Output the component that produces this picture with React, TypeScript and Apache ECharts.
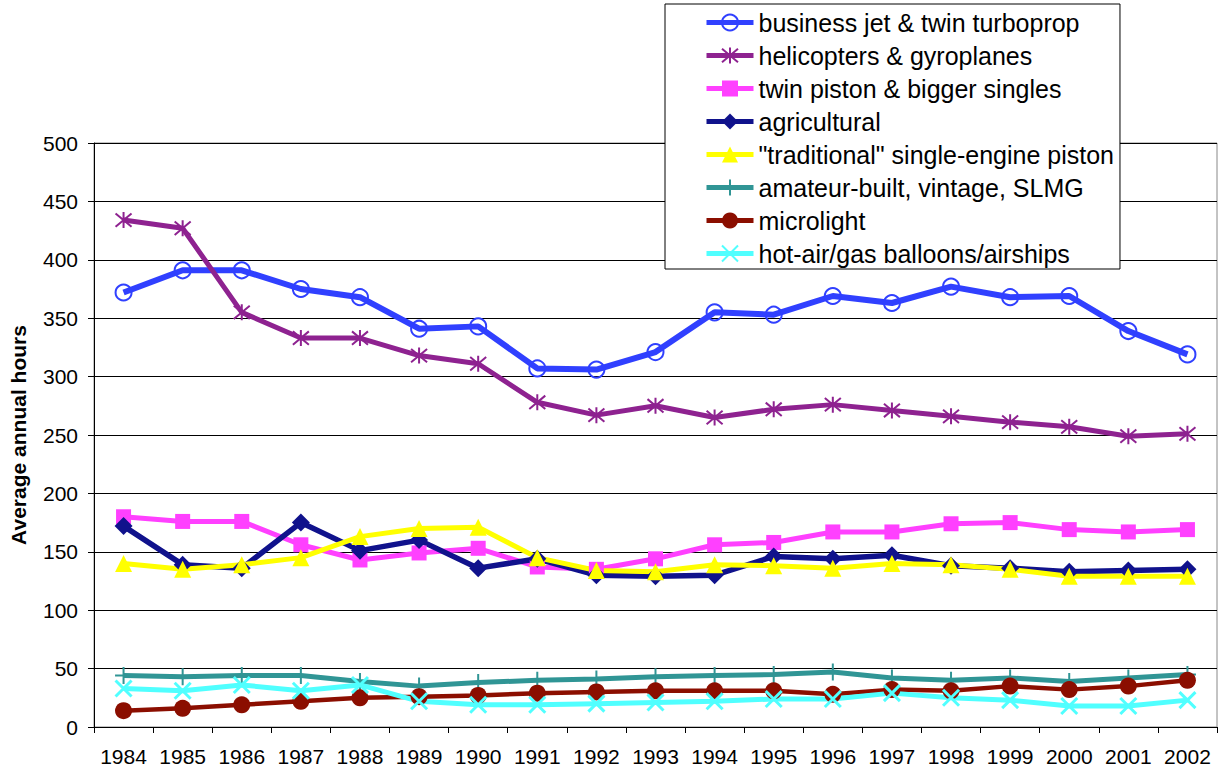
import React, { useEffect, useRef } from "react";
import * as echarts from "echarts";

const years = ["1984","1985","1986","1987","1988","1989","1990","1991","1992","1993","1994","1995","1996","1997","1998","1999","2000","2001","2002"];
const businessJet = [372,391,391,375,368,341,343,307,306,321,355,353,369,363,377,368,369,339,319];
const helicopters = [434,427,355,333,333,318,311,278,267,275,265,272,276,271,266,261,257,249,251];
const twinPiston = [180,176,176,156,143,149,153,137,135,144,156,158,167,167,174,175,169,167,169];
const agricultural = [172,139,136,175,151,160,136,144,130,129,130,146,144,147,138,136,133,134,135];
const traditional = [140,135,139,145,163,170,171,145,134,133,139,138,136,140,139,135,129,129,129];
const amateur = [44,43,44,44,39,35,38,40,41,43,44,45,47,42,40,42,39,42,45];
const microlight = [14,16,19,22,25,26,27,29,30,31,31,31,28,32,31,35,32,35,40];
const balloons = [33,31,36,31,36,22,19,19,20,21,22,24,24,29,25,23,18,18,23];

const names = [
  "business jet & twin turboprop",
  "helicopters & gyroplanes",
  "twin piston & bigger singles",
  "agricultural",
  "\"traditional\" single-engine piston",
  "amateur-built, vintage, SLMG",
  "microlight",
  "hot-air/gas balloons/airships",
];

const FONT = "'Liberation Sans', Arial, sans-serif";

const ASTERISK = "path://M0,0L10,10M10,0L0,10M5,-1L5,11";
const CROSS = "path://M0,0L10,10M10,0L0,10";
const PLUS = "path://M5,0L5,12M0,6L10,6";

function strokeSeries(name: string, data: number[], color: string, symbol: string, size: number, lw: number, bw: number) {
  return {
    name,
    type: "line",
    data,
    symbol,
    symbolSize: size,
    lineStyle: { color, width: lw },
    itemStyle: { color: "rgba(0,0,0,0)", borderColor: color, borderWidth: bw },
  };
}

function fillSeries(name: string, data: number[], color: string, symbol: string, size: number, lw: number) {
  return {
    name,
    type: "line",
    data,
    symbol,
    symbolSize: size,
    lineStyle: { color, width: lw },
    itemStyle: { color },
  };
}

export default function App() {
  const ref = useRef<HTMLDivElement>(null);
  useEffect(() => {
    if (!ref.current) return;
    const chart = echarts.init(ref.current, null, { renderer: "svg" });
    chart.setOption({
      animation: false,
      backgroundColor: "#fff",
      textStyle: { fontFamily: FONT },
      grid: {
        left: 94,
        right: 15,
        top: 143,
        bottom: 44,
        show: true,
        borderColor: "#888",
        borderWidth: 1,
      },
      legend: {
        orient: "vertical",
        left: 665,
        top: 4,
        padding: [6, 6, 3, 39],
        itemWidth: 47,
        itemHeight: 20,
        itemGap: 8,
        backgroundColor: "#fff",
        borderColor: "#000",
        borderWidth: 1,
        lineStyle: { width: 5 },
        textStyle: { fontFamily: FONT, fontSize: 25, color: "#000", lineHeight: 25 },
        data: names,
      },
      xAxis: {
        type: "category",
        data: years,
        boundaryGap: true,
        axisLine: { lineStyle: { color: "#000", width: 1 } },
        axisTick: { show: true, length: 6, alignWithLabel: false, lineStyle: { color: "#000" } },
        axisLabel: { fontFamily: FONT, fontSize: 21, color: "#000", margin: 19, interval: 0 },
        splitLine: { show: false },
      },
      yAxis: {
        type: "value",
        min: 0,
        max: 500,
        interval: 50,
        name: "Average annual hours",
        nameLocation: "middle",
        nameGap: 65,
        nameTextStyle: { fontFamily: FONT, fontSize: 21, fontWeight: "bold", color: "#000" },
        axisLine: { show: true, lineStyle: { color: "#000", width: 1 } },
        axisTick: { show: true, length: 6, lineStyle: { color: "#000" } },
        axisLabel: { fontFamily: FONT, fontSize: 21, color: "#000", margin: 16 },
        splitLine: { show: true, lineStyle: { color: "#000", width: 1 } },
      },
      series: [
        strokeSeries(names[0], businessJet, "#3040FF", "circle", 16, 6, 2),
        strokeSeries(names[1], helicopters, "#8E2290", ASTERISK, 16, 5, 2),
        fillSeries(names[2], twinPiston, "#FF40FF", "rect", 15, 5),
        fillSeries(names[3], agricultural, "#10128C", "diamond", 18, 5.5),
        fillSeries(names[4], traditional, "#FFFF00", "triangle", 17, 5),
        strokeSeries(names[5], amateur, "#309595", PLUS, 17, 5, 2),
        fillSeries(names[6], microlight, "#8B0E00", "circle", 17, 4.5),
        strokeSeries(names[7], balloons, "#50FFFF", CROSS, 16, 5, 3),
      ],
    });
    return () => chart.dispose();
  }, []);
  return (
    <div
      ref={ref}
      style={{ position: "fixed", left: 0, top: 0, width: 1232, height: 771 }}
    />
  );
}
